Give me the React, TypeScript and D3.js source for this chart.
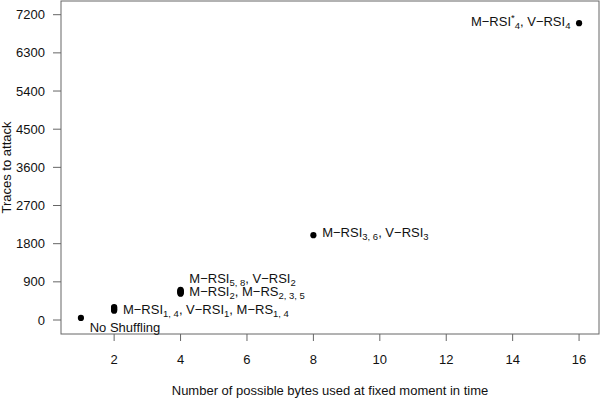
import React from "react";
import * as d3 from "d3";

const xTicks = [2, 4, 6, 8, 10, 12, 14, 16];
const yTicks = [0, 900, 1800, 2700, 3600, 4500, 5400, 6300, 7200];

const pointX = [1, 2, 2, 2, 2, 2, 4, 4, 4, 4, 4, 4, 4, 8, 16];
const pointY = [50, 220, 240, 260, 285, 305, 620, 635, 650, 665, 680, 695, 710, 2000, 7000];

type Seg = [string, string];
const labelX = [1, 2, 4, 4, 8, 16];
const labelY = [-170, 248, 983, 667, 2059, 7045];
const labelAnchor = ["start", "start", "start", "start", "start", "end"];
const labelParts: Seg[][] = [
  [["No Shuffling", ""]],
  [["M−RSI", ""], ["1, 4", "sub"], [", V−RSI", ""], ["1", "sub"], [", M−RS", ""], ["1, 4", "sub"]],
  [["M−RSI", ""], ["5, 8", "sub"], [", V−RSI", ""], ["2", "sub"]],
  [["M−RSI", ""], ["2", "sub"], [", M−RS", ""], ["2, 3, 5", "sub"]],
  [["M−RSI", ""], ["3, 6", "sub"], [", V−RSI", ""], ["3", "sub"]],
  [["M−RSI", ""], ["*", "sup"], ["4", "sub"], [", V−RSI", ""], ["4", "sub"]],
];

const xLabel = "Number of possible bytes used at fixed moment in time";
const yLabel = "Traces to attack";

const W = 600;
const H = 398;
const L = 61, R = 599, T = 1, B = 334;
const FONT = "'Liberation Sans', Arial, Helvetica, sans-serif";
const AXIS = "#666";

function renderParts(parts: Seg[]) {
  let cur = 0;
  return parts.map((p, i) => {
    const target = p[1] === "sub" ? 3 : p[1] === "sup" ? -5 : 0;
    const dy = target - cur;
    cur = target;
    return (
      <tspan key={i} dy={dy} fontSize={p[1] ? 9.5 : 13}>
        {p[0]}
      </tspan>
    );
  });
}

export default function App() {
  const x = d3.scaleLinear().domain([0.4, 16.6]).range([L, R]);
  const y = d3.scaleLinear().domain([-330, 7523]).range([B, T]);

  return (
    <svg
      width={W}
      height={H}
      style={{ position: "absolute", left: 0, top: 0, background: "#fff" }}
      fontFamily={FONT}
    >
      <rect x={L} y={T} width={R - L} height={B - T} fill="none" stroke={AXIS} strokeWidth={1} />
      {xTicks.map((t) => (
        <g key={"x" + t}>
          <line x1={x(t)} x2={x(t)} y1={B} y2={B + 7} stroke={AXIS} />
          <text x={x(t)} y={363.5} textAnchor="middle" fontSize={13} fill="#111">
            {t}
          </text>
        </g>
      ))}
      {yTicks.map((t) => (
        <g key={"y" + t}>
          <line x1={L - 8} x2={L} y1={y(t)} y2={y(t)} stroke={AXIS} />
          <text x={45} y={y(t) + 4.6} textAnchor="end" fontSize={13} fill="#111">
            {t}
          </text>
        </g>
      ))}
      <text x={(L + R) / 2} y={394.5} textAnchor="middle" fontSize={13} fill="#111">
        {xLabel}
      </text>
      <text
        transform={`translate(11, ${(T + B) / 2}) rotate(-90)`}
        textAnchor="middle"
        fontSize={13}
        fill="#111"
      >
        {yLabel}
      </text>
      {pointX.map((px, i) => (
        <circle key={"p" + i} cx={x(px)} cy={y(pointY[i])} r={3.1} fill="#000" />
      ))}
      {labelX.map((lx, i) => (
        <text
          key={"l" + i}
          x={x(lx) + (labelAnchor[i] === "end" ? -8.6 : 8.8)}
          y={y(labelY[i]) + 4.6}
          textAnchor={labelAnchor[i]}
          fontSize={13}
          fill="#111"
        >
          {renderParts(labelParts[i])}
        </text>
      ))}
    </svg>
  );
}
